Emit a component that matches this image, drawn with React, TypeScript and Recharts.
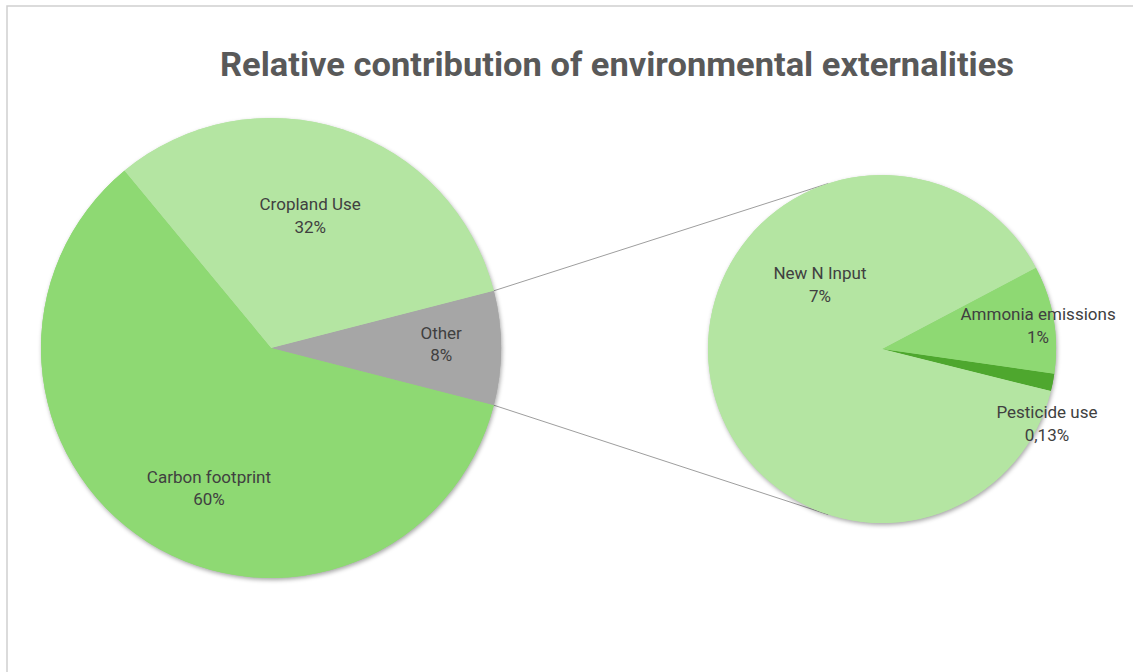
import React from 'react';
import { PieChart, Pie, Cell } from 'recharts';

// ---- data ----
const mainNames = ['Other', 'Cropland Use', 'Carbon footprint'];
const mainValues = [8, 32, 60];
const mainLabels = ['8%', '32%', '60%'];
const mainColors = ['#A6A6A6', '#B4E5A2', '#8ED973'];

const subNames = ['Pesticide use', 'Ammonia emissions', 'New N Input'];
const subValues = [0.13, 0.8, 7.07];
const subLabels = ['0,13%', '1%', '7%'];
const subColors = ['#4EA72E', '#8ED973', '#B4E5A2'];

const title = 'Relative contribution of environmental externalities';

// ---- layout ----
const W = 1133;
const H = 672;
const MAIN = { cx: 271, cy: 348, r: 230 };
const SUB = { cx: 882, cy: 349, r: 174 };
const SUB_START = -14;
const LABEL_FONT = 'Roboto, "Open Sans", sans-serif';

const mainPlacement = [
  { dA: 1.3, r: 0.74 },
  { dA: 1.5, r: 0.6 },
  { dA: 8.5, r: 0.666 },
];
const subPlacement = [
  { dA: -13.2, r: 1.04 },
  { dA: -1.3, r: 0.907 },
  { dA: -53, r: 0.514 },
];

const mainData = mainNames.map((name, i) => ({ name, value: mainValues[i], label: mainLabels[i] }));
const subData = subNames.map((name, i) => ({ name, value: subValues[i], label: subLabels[i] }));

const mainTotal = mainValues.reduce((a, b) => a + b, 0);
const otherHalf = (mainValues[0] / mainTotal) * 180;
const MAIN_START = -otherHalf;

const RAD = Math.PI / 180;

const makeLabel = (placement: { dA: number; r: number }[], data: { name: string; label: string }[]) =>
  (props: any) => {
    const { cx, cy, midAngle, outerRadius, index } = props;
    const p = placement[index];
    const a = (midAngle + p.dA) * RAD;
    const x = cx + outerRadius * p.r * Math.cos(a);
    const y = cy - outerRadius * p.r * Math.sin(a);
    return (
      <text key={`lbl-${index}`} x={x} y={y} textAnchor="middle" fill="#404040" fontSize={17} fontFamily={LABEL_FONT}>
        <tspan x={x} dy={-5.2}>{data[index].name}</tspan>
        <tspan x={x} dy={22.5}>{data[index].label}</tspan>
      </text>
    );
  };

const pt = (c: { cx: number; cy: number }, r: number, ang: number) => ({
  x: c.cx + r * Math.cos(ang * RAD),
  y: c.cy - r * Math.sin(ang * RAD),
});

export default function App() {
  const mTop = pt(MAIN, MAIN.r, otherHalf);
  const mBot = pt(MAIN, MAIN.r, -otherHalf);
  const sTop = pt(SUB, SUB.r, 108);
  const sBot = pt(SUB, SUB.r, -108);

  const pies = (withLabels: boolean) => (
    <PieChart width={W} height={H} margin={{ top: 0, right: 0, bottom: 0, left: 0 }}>
      <Pie
        data={mainData}
        dataKey="value"
        nameKey="name"
        cx={MAIN.cx}
        cy={MAIN.cy}
        outerRadius={MAIN.r}
        startAngle={MAIN_START}
        endAngle={MAIN_START + 360}
        stroke="none"
        isAnimationActive={false}
        labelLine={false}
        label={withLabels ? makeLabel(mainPlacement, mainData) : false}
      >
        {mainData.map((d, i) => (
          <Cell key={d.name} fill={mainColors[i]} />
        ))}
      </Pie>
      <Pie
        data={subData}
        dataKey="value"
        nameKey="name"
        cx={SUB.cx}
        cy={SUB.cy}
        outerRadius={SUB.r}
        startAngle={SUB_START}
        endAngle={SUB_START + 360}
        stroke="none"
        isAnimationActive={false}
        labelLine={false}
        label={withLabels ? makeLabel(subPlacement, subData) : false}
      >
        {subData.map((d, i) => (
          <Cell key={d.name} fill={subColors[i]} />
        ))}
      </Pie>
    </PieChart>
  );

  return (
    <div style={{ position: 'absolute', left: 0, top: 0, width: W, height: H, overflow: 'hidden', background: '#fff' }}>
      <svg width={W} height={H} style={{ position: 'absolute', left: 0, top: 0 }}>
        <rect x={7} y={6} width={1300} height={800} fill="none" stroke="#cfcfcf" strokeWidth={1.5} />
        <text
          x={617}
          y={76}
          textAnchor="middle"
          fontSize={33}
          fontWeight="bold"
          fill="#595959"
          fontFamily={'"Liberation Sans Narrow", Roboto, sans-serif'}
          textLength={794}
          lengthAdjust="spacingAndGlyphs"
        >
          {title}
        </text>
        <line x1={mTop.x} y1={mTop.y} x2={sTop.x} y2={sTop.y} stroke="#9e9e9e" strokeWidth={1} />
        <line x1={mBot.x} y1={mBot.y} x2={sBot.x} y2={sBot.y} stroke="#9e9e9e" strokeWidth={1} />
      </svg>
      <div style={{ position: 'absolute', left: 0, top: 0, filter: 'drop-shadow(1px 2px 2px rgba(0,0,0,0.35))' }}>
        {pies(false)}
      </div>
      <div style={{ position: 'absolute', left: 0, top: 0 }}>{pies(true)}</div>
    </div>
  );
}
